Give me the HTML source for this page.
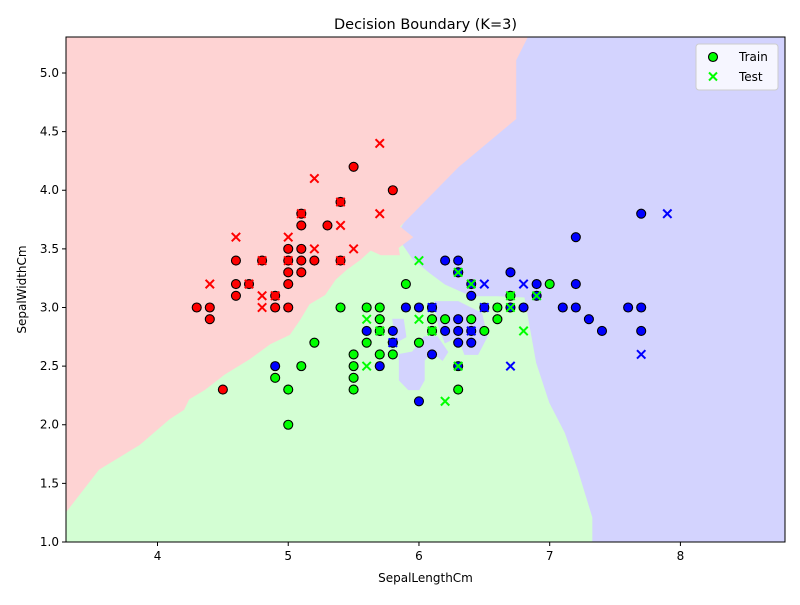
<!DOCTYPE html>
<html><head><meta charset="utf-8"><style>
body{margin:0;background:#fff;font-family:"Liberation Sans","DejaVu Sans",sans-serif}
svg text{font-family:"DejaVu Sans","Liberation Sans",sans-serif;fill:#000}
</style></head><body>
<svg id="c" width="800" height="600"></svg>
<script>
const xTicks=[4,5,6,7,8];
const yTicks=[1.0,1.5,2.0,2.5,3.0,3.5,4.0,4.5,5.0];
const redTrain=[[4.3,3.0],[4.4,3.0],[4.4,2.9],[4.5,2.3],[4.6,3.4],[4.6,3.2],[4.6,3.1],[4.7,3.2],[4.8,3.4],[4.9,3.1],[4.9,3.0],[5.0,3.5],[5.0,3.4],[5.0,3.3],[5.0,3.2],[5.0,3.0],[5.1,3.8],[5.1,3.7],[5.1,3.5],[5.1,3.4],[5.1,3.3],[5.2,3.4],[5.3,3.7],[5.4,3.9],[5.4,3.4],[5.5,4.2],[5.8,4.0]];
const greenTrain=[[4.9,2.4],[5.0,2.3],[5.0,2.0],[5.1,2.5],[5.2,2.7],[5.4,3.0],[5.5,2.6],[5.5,2.5],[5.5,2.4],[5.5,2.3],[5.6,3.0],[5.6,2.7],[5.7,3.0],[5.7,2.9],[5.7,2.8],[5.7,2.6],[5.8,2.7],[5.8,2.6],[5.9,3.2],[6.0,2.7],[6.1,2.9],[6.1,2.8],[6.2,2.9],[6.3,2.3],[6.4,2.9],[6.5,2.8],[6.6,3.0],[6.6,2.9],[6.7,3.1],[7.0,3.2],[6.3,3.3],[6.1,3.0]];
const blueTrain=[[4.9,2.5],[5.6,2.8],[5.7,2.5],[5.8,2.8],[5.8,2.7],[5.9,3.0],[6.0,3.0],[6.0,2.2],[6.1,3.0],[6.1,2.6],[6.2,3.4],[6.2,2.8],[6.3,3.4],[6.3,3.3],[6.3,2.9],[6.3,2.8],[6.3,2.7],[6.3,2.5],[6.4,3.2],[6.4,3.1],[6.4,2.8],[6.4,2.7],[6.5,3.0],[6.7,3.3],[6.7,3.0],[6.8,3.0],[6.9,3.2],[6.9,3.1],[7.1,3.0],[7.2,3.6],[7.2,3.2],[7.2,3.0],[7.3,2.9],[7.4,2.8],[7.6,3.0],[7.7,3.8],[7.7,3.0],[7.7,2.8]];
const redTest=[[4.4,3.2],[4.6,3.6],[4.8,3.1],[4.8,3.0],[5.0,3.6],[5.2,4.1],[5.2,3.5],[5.4,3.7],[5.5,3.5],[5.7,4.4],[5.7,3.8],[4.7,3.2],[4.8,3.4],[5.0,3.4],[5.1,3.8],[5.4,3.9],[5.4,3.4],[4.9,3.1]];
const greenTest=[[5.6,2.9],[5.6,2.5],[5.7,2.8],[6.0,3.4],[6.0,2.9],[6.2,2.2],[6.3,2.5],[6.4,3.2],[6.7,3.1],[6.7,3.0],[6.8,2.8],[6.9,3.1],[6.1,2.8],[6.3,3.3]];
const blueTest=[[5.8,2.7],[6.1,3.0],[6.4,2.8],[6.5,3.2],[6.5,3.0],[6.7,2.5],[6.8,3.2],[7.7,2.6],[7.9,3.8]];
// decision region outlines in data coordinates
const redRegion=[[3.3,5.31],[6.83,5.31],[6.74,5.11],[6.74,4.61],[6.3,4.2],[5.85,3.69],[5.95,3.60],[5.84,3.51],[5.85,3.45],[5.71,3.45],[5.63,3.49],[5.55,3.41],[5.44,3.32],[5.36,3.24],[5.28,3.11],[5.16,3.03],[5.09,2.90],[5.01,2.77],[4.86,2.69],[4.7,2.56],[4.51,2.43],[4.36,2.30],[4.24,2.22],[4.2,2.13],[4.09,2.05],[3.86,1.83],[3.55,1.62],[3.3,1.26]];
const blueRegion=[[6.83,5.31],[8.8,5.31],[8.8,1.0],[7.33,1.0],[7.33,1.21],[7.22,1.61],[7.12,1.93],[7.0,2.19],[6.9,2.53],[6.81,3.09],[6.6,3.1],[6.4,3.1],[6.2,3.2],[6.08,3.3],[5.95,3.42],[5.87,3.55],[5.87,3.69]];
const blueIsland1=[[5.92,2.30],[6.0,2.30],[6.04,2.38],[6.04,2.55],[6.1,2.62],[6.18,2.55],[6.22,2.62],[6.14,2.75],[6.04,2.75],[5.95,2.62],[5.85,2.6],[5.85,2.38]];
const blueIsland2=[[6.12,3.05],[6.3,3.05],[6.48,2.95],[6.52,2.75],[6.45,2.6],[6.35,2.6],[6.3,2.75],[6.2,2.7],[6.15,2.85]];
const blueIsland3=[[5.8,2.9],[5.88,2.9],[5.9,2.75],[5.82,2.7]];

const NS='http://www.w3.org/2000/svg',svg=document.getElementById('c');
const L=66,R=785,T=37,B=542,X0=3.3,X1=8.8,Y0=1.0,Y1=5.307;
const sx=v=>L+(v-X0)/(X1-X0)*(R-L), sy=v=>B-(v-Y0)/(Y1-Y0)*(B-T);
function el(t,a,p){const e=document.createElementNS(NS,t);for(const k in a)e.setAttribute(k,a[k]);(p||svg).appendChild(e);return e;}
const defs=el('defs',{});const cp=el('clipPath',{id:'clip'},defs);el('rect',{x:L,y:T,width:R-L,height:B-T},cp);
const g=el('g',{'clip-path':'url(#clip)'});
let bg=el('rect',{x:L,y:T,width:R-L,height:B-T,fill:'#d3fed3'},g);


function poly(pts,fill,name){const p=el('polygon',{points:pts.map(d=>sx(d[0])+','+sy(d[1])).join(' '),fill:fill,stroke:fill,'stroke-width':1},g);

}
poly(blueRegion,'#d3d3fe','region-blue');
poly(blueIsland1,'#d3d3fe','region-blue-island');
poly(blueIsland2,'#d3d3fe','region-blue-island');
poly(blueIsland3,'#d3d3fe','region-blue-island');
poly(redRegion,'#fed3d3','region-red');
function circles(arr,col,name){arr.forEach(d=>{const c=el('circle',{cx:sx(d[0]),cy:sy(d[1]),r:4.5,fill:col,stroke:'#000','stroke-width':1.1},g);

});}
function crosses(arr,col,name){arr.forEach(d=>{const x=sx(d[0]),y=sy(d[1]);const p=el('path',{d:`M${x-4.2} ${y-4.2}L${x+4.2} ${y+4.2}M${x-4.2} ${y+4.2}L${x+4.2} ${y-4.2}`,stroke:col,'stroke-width':2},g);

});}
circles(redTrain,'#ff0000','train-point-red');circles(greenTrain,'#00ff00','train-point-green');circles(blueTrain,'#0000ff','train-point-blue');
crosses(redTest,'#ff0000','test-point-red');crosses(greenTest,'#00ff00','test-point-green');crosses(blueTest,'#0000ff','test-point-blue');
el('rect',{x:L,y:T,width:R-L,height:B-T,fill:'none',stroke:'#000','stroke-width':1});
xTicks.forEach(v=>{const x=sx(v);el('line',{x1:x,x2:x,y1:B,y2:B+4,stroke:'#000'});let t=el('text',{x:x,y:B+18,'text-anchor':'middle','font-size':12});t.textContent=v;

});
yTicks.forEach(v=>{const y=sy(v);el('line',{x1:L-4,x2:L,y1:y,y2:y,stroke:'#000'});let t=el('text',{x:L-7,y:y+4,'text-anchor':'end','font-size':12});t.textContent=v.toFixed(1);

});
let t=el('text',{x:(L+R)/2,y:29,'text-anchor':'middle','font-size':14.5});t.textContent='Decision Boundary (K=3)';


t=el('text',{x:(L+R)/2,y:582,'text-anchor':'middle','font-size':12});t.textContent='SepalLengthCm';


t=el('text',{x:26,y:(T+B)/2,'text-anchor':'middle','font-size':12,transform:`rotate(-90 26 ${(T+B)/2})`});t.textContent='SepalWidthCm';


const lg=el('g',{});


el('rect',{x:696,y:44,width:82,height:46,rx:3,fill:'#fff','fill-opacity':0.8,stroke:'#ccc'},lg);
el('circle',{cx:713,cy:57,r:4.5,fill:'#00ff00',stroke:'#000','stroke-width':1.1},lg);
el('path',{d:'M709 72.5L717 80.5M709 80.5L717 72.5',stroke:'#00ff00','stroke-width':2},lg);
t=el('text',{x:739,y:61,'font-size':12},lg);t.textContent='Train';


t=el('text',{x:739,y:81,'font-size':12},lg);t.textContent='Test';


</script>
</body></html>
